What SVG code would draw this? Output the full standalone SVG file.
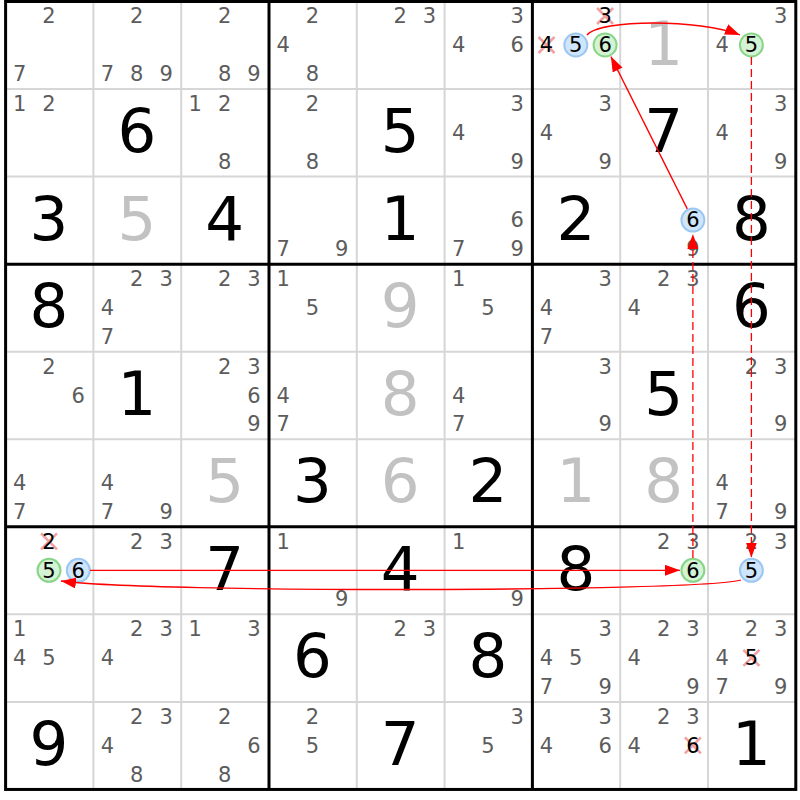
<svg xmlns="http://www.w3.org/2000/svg" xmlns:xlink="http://www.w3.org/1999/xlink" width="800" height="800" viewBox="0 0 800 800">
<defs>
<style>
text{font-family:"DejaVu Sans","Liberation Sans",sans-serif;text-anchor:middle}
.c{font-size:21px;fill:#5c5c5c}
.k{font-size:21px;fill:#000}
.b{font-size:61px;fill:#000}
.g{font-size:61px;fill:#c2c2c2}
.thin{stroke:#d6d6d6;stroke-width:2;fill:none}
.thick{stroke:#000;stroke-width:3;fill:none}
.cb{fill:#cfe5fb;stroke:#9cc7f0;stroke-width:2}
.cg{fill:#d4f2d4;stroke:#88d488;stroke-width:2}
.xm{stroke:#f2a0a0;stroke-width:2.5;fill:none}
.ln{stroke:#f00;stroke-width:1.3;fill:none}
.ds{stroke-dasharray:8 4}
</style>
<path id="x" class="xm" d="M-8-8L8 8M8-8L-8 8"/>
<marker id="ah" markerUnits="userSpaceOnUse" viewBox="0 0 15 11" refX="15" refY="5.5" markerWidth="15" markerHeight="11" orient="auto">
<path d="M0 0L15 5.5L0 11z" fill="#f00"/>
</marker>
</defs>
<rect width="800" height="800" fill="#fff"/>
<g id="grid">
<path class="thin" d="M93.4 1.5V789.45M181.2 1.5V789.45M356.8 1.5V789.45M444.6 1.5V789.45M620.2 1.5V789.45M708 1.5V789.45M5.6 89.05H795.8M5.6 176.6H795.8M5.6 351.7H795.8M5.6 439.25H795.8M5.6 614.35H795.8M5.6 701.9H795.8"/>
<path class="thick" d="M269 1.5V789.45M532.4 1.5V789.45M5.6 264.15H795.8M5.6 526.8H795.8"/>
<rect class="thick" x="5.6" y="1.5" width="790.2" height="787.95"/>
</g>
<g id="r1c1"><text class="c" x="49" y="23.3">2</text><text class="c" x="19.7" y="81.1">7</text></g>
<g id="r1c2"><text class="c" x="136.8" y="23.3">2</text><text class="c" x="107.5" y="81.1">7</text><text class="c" x="136.8" y="81.1">8</text><text class="c" x="166.1" y="81.1">9</text></g>
<g id="r1c3"><text class="c" x="224.6" y="23.3">2</text><text class="c" x="224.6" y="81.1">8</text><text class="c" x="253.9" y="81.1">9</text></g>
<g id="r1c4"><text class="c" x="312.4" y="23.3">2</text><text class="c" x="283.1" y="52.3">4</text><text class="c" x="312.4" y="81.1">8</text></g>
<g id="r1c5"><text class="c" x="400.2" y="23.3">2</text><text class="c" x="429.5" y="23.3">3</text></g>
<g id="r1c6"><text class="c" x="517.3" y="23.3">3</text><text class="c" x="458.7" y="52.3">4</text><text class="c" x="517.3" y="52.3">6</text></g>
<g id="r1c7"><use href="#x" x="605.1" y="16"/><text class="k" x="605.1" y="23.3">3</text><use href="#x" x="546.5" y="45"/><text class="k" x="546.5" y="52.3">4</text><circle class="cb" cx="575.8" cy="45" r="11.5"/><text class="k" x="575.8" y="52.3">5</text><circle class="cg" cx="605.1" cy="45" r="11.5"/><text class="k" x="605.1" y="52.3">6</text></g>
<g id="r1c8"><text class="g" x="663.6" y="64.5">1</text></g>
<g id="r1c9"><text class="c" x="780.7" y="23.3">3</text><text class="c" x="722.1" y="52.3">4</text><circle class="cg" cx="751.4" cy="45" r="11.5"/><text class="k" x="751.4" y="52.3">5</text></g>
<g id="r2c1"><text class="c" x="19.7" y="110.9">1</text><text class="c" x="49" y="110.9">2</text></g>
<g id="r2c2"><text class="b" x="136.8" y="152">6</text></g>
<g id="r2c3"><text class="c" x="195.3" y="110.9">1</text><text class="c" x="224.6" y="110.9">2</text><text class="c" x="224.6" y="168.7">8</text></g>
<g id="r2c4"><text class="c" x="312.4" y="110.9">2</text><text class="c" x="312.4" y="168.7">8</text></g>
<g id="r2c5"><text class="b" x="400.2" y="152">5</text></g>
<g id="r2c6"><text class="c" x="517.3" y="110.9">3</text><text class="c" x="458.7" y="139.9">4</text><text class="c" x="517.3" y="168.7">9</text></g>
<g id="r2c7"><text class="c" x="605.1" y="110.9">3</text><text class="c" x="546.5" y="139.9">4</text><text class="c" x="605.1" y="168.7">9</text></g>
<g id="r2c8"><text class="b" x="663.6" y="152">7</text></g>
<g id="r2c9"><text class="c" x="780.7" y="110.9">3</text><text class="c" x="722.1" y="139.9">4</text><text class="c" x="780.7" y="168.7">9</text></g>
<g id="r3c1"><text class="b" x="49" y="239.6">3</text></g>
<g id="r3c2"><text class="g" x="136.8" y="239.6">5</text></g>
<g id="r3c3"><text class="b" x="224.6" y="239.6">4</text></g>
<g id="r3c4"><text class="c" x="283.1" y="256.2">7</text><text class="c" x="341.7" y="256.2">9</text></g>
<g id="r3c5"><text class="b" x="400.2" y="239.6">1</text></g>
<g id="r3c6"><text class="c" x="517.3" y="227.4">6</text><text class="c" x="458.7" y="256.2">7</text><text class="c" x="517.3" y="256.2">9</text></g>
<g id="r3c7"><text class="b" x="575.8" y="239.6">2</text></g>
<g id="r3c8"><circle class="cb" cx="692.9" cy="220.1" r="11.5"/><text class="k" x="692.9" y="227.4">6</text><text class="c" x="692.9" y="256.2">9</text></g>
<g id="r3c9"><text class="b" x="751.4" y="239.6">8</text></g>
<g id="r4c1"><text class="b" x="49" y="327.2">8</text></g>
<g id="r4c2"><text class="c" x="136.8" y="286">2</text><text class="c" x="166.1" y="286">3</text><text class="c" x="107.5" y="315">4</text><text class="c" x="107.5" y="343.8">7</text></g>
<g id="r4c3"><text class="c" x="224.6" y="286">2</text><text class="c" x="253.9" y="286">3</text></g>
<g id="r4c4"><text class="c" x="283.1" y="286">1</text><text class="c" x="312.4" y="315">5</text></g>
<g id="r4c5"><text class="g" x="400.2" y="327.2">9</text></g>
<g id="r4c6"><text class="c" x="458.7" y="286">1</text><text class="c" x="488" y="315">5</text></g>
<g id="r4c7"><text class="c" x="605.1" y="286">3</text><text class="c" x="546.5" y="315">4</text><text class="c" x="546.5" y="343.8">7</text></g>
<g id="r4c8"><text class="c" x="663.6" y="286">2</text><text class="c" x="692.9" y="286">3</text><text class="c" x="634.3" y="315">4</text></g>
<g id="r4c9"><text class="b" x="751.4" y="327.2">6</text></g>
<g id="r5c1"><text class="c" x="49" y="373.5">2</text><text class="c" x="78.3" y="402.5">6</text></g>
<g id="r5c2"><text class="b" x="136.8" y="414.7">1</text></g>
<g id="r5c3"><text class="c" x="224.6" y="373.5">2</text><text class="c" x="253.9" y="373.5">3</text><text class="c" x="253.9" y="402.5">6</text><text class="c" x="253.9" y="431.3">9</text></g>
<g id="r5c4"><text class="c" x="283.1" y="402.5">4</text><text class="c" x="283.1" y="431.3">7</text></g>
<g id="r5c5"><text class="g" x="400.2" y="414.7">8</text></g>
<g id="r5c6"><text class="c" x="458.7" y="402.5">4</text><text class="c" x="458.7" y="431.3">7</text></g>
<g id="r5c7"><text class="c" x="605.1" y="373.5">3</text><text class="c" x="605.1" y="431.3">9</text></g>
<g id="r5c8"><text class="b" x="663.6" y="414.7">5</text></g>
<g id="r5c9"><text class="c" x="751.4" y="373.5">2</text><text class="c" x="780.7" y="373.5">3</text><text class="c" x="780.7" y="431.3">9</text></g>
<g id="r6c1"><text class="c" x="19.7" y="490.1">4</text><text class="c" x="19.7" y="518.9">7</text></g>
<g id="r6c2"><text class="c" x="107.5" y="490.1">4</text><text class="c" x="107.5" y="518.9">7</text><text class="c" x="166.1" y="518.9">9</text></g>
<g id="r6c3"><text class="g" x="224.6" y="502.3">5</text></g>
<g id="r6c4"><text class="b" x="312.4" y="502.3">3</text></g>
<g id="r6c5"><text class="g" x="400.2" y="502.3">6</text></g>
<g id="r6c6"><text class="b" x="488" y="502.3">2</text></g>
<g id="r6c7"><text class="g" x="575.8" y="502.3">1</text></g>
<g id="r6c8"><text class="g" x="663.6" y="502.3">8</text></g>
<g id="r6c9"><text class="c" x="722.1" y="490.1">4</text><text class="c" x="722.1" y="518.9">7</text><text class="c" x="780.7" y="518.9">9</text></g>
<g id="r7c1"><use href="#x" x="49" y="541.3"/><text class="k" x="49" y="548.6">2</text><circle class="cg" cx="49" cy="570.3" r="11.5"/><text class="k" x="49" y="577.6">5</text><circle class="cb" cx="78.3" cy="570.3" r="11.5"/><text class="k" x="78.3" y="577.6">6</text></g>
<g id="r7c2"><text class="c" x="136.8" y="548.6">2</text><text class="c" x="166.1" y="548.6">3</text></g>
<g id="r7c3"><text class="b" x="224.6" y="589.8">7</text></g>
<g id="r7c4"><text class="c" x="283.1" y="548.6">1</text><text class="c" x="341.7" y="606.4">9</text></g>
<g id="r7c5"><text class="b" x="400.2" y="589.8">4</text></g>
<g id="r7c6"><text class="c" x="458.7" y="548.6">1</text><text class="c" x="517.3" y="606.4">9</text></g>
<g id="r7c7"><text class="b" x="575.8" y="589.8">8</text></g>
<g id="r7c8"><text class="c" x="663.6" y="548.6">2</text><text class="c" x="692.9" y="548.6">3</text><circle class="cg" cx="692.9" cy="570.3" r="11.5"/><text class="k" x="692.9" y="577.6">6</text></g>
<g id="r7c9"><text class="c" x="751.4" y="548.6">2</text><text class="c" x="780.7" y="548.6">3</text><circle class="cb" cx="751.4" cy="570.3" r="11.5"/><text class="k" x="751.4" y="577.6">5</text></g>
<g id="r8c1"><text class="c" x="19.7" y="636.2">1</text><text class="c" x="19.7" y="665.2">4</text><text class="c" x="49" y="665.2">5</text></g>
<g id="r8c2"><text class="c" x="136.8" y="636.2">2</text><text class="c" x="166.1" y="636.2">3</text><text class="c" x="107.5" y="665.2">4</text></g>
<g id="r8c3"><text class="c" x="195.3" y="636.2">1</text><text class="c" x="253.9" y="636.2">3</text></g>
<g id="r8c4"><text class="b" x="312.4" y="677.4">6</text></g>
<g id="r8c5"><text class="c" x="400.2" y="636.2">2</text><text class="c" x="429.5" y="636.2">3</text></g>
<g id="r8c6"><text class="b" x="488" y="677.4">8</text></g>
<g id="r8c7"><text class="c" x="605.1" y="636.2">3</text><text class="c" x="546.5" y="665.2">4</text><text class="c" x="575.8" y="665.2">5</text><text class="c" x="546.5" y="694">7</text><text class="c" x="605.1" y="694">9</text></g>
<g id="r8c8"><text class="c" x="663.6" y="636.2">2</text><text class="c" x="692.9" y="636.2">3</text><text class="c" x="634.3" y="665.2">4</text><text class="c" x="692.9" y="694">9</text></g>
<g id="r8c9"><text class="c" x="751.4" y="636.2">2</text><text class="c" x="780.7" y="636.2">3</text><text class="c" x="722.1" y="665.2">4</text><use href="#x" x="751.4" y="657.9"/><text class="k" x="751.4" y="665.2">5</text><text class="c" x="722.1" y="694">7</text><text class="c" x="780.7" y="694">9</text></g>
<g id="r9c1"><text class="b" x="49" y="764.9">9</text></g>
<g id="r9c2"><text class="c" x="136.8" y="723.7">2</text><text class="c" x="166.1" y="723.7">3</text><text class="c" x="107.5" y="752.7">4</text><text class="c" x="136.8" y="781.5">8</text></g>
<g id="r9c3"><text class="c" x="224.6" y="723.7">2</text><text class="c" x="253.9" y="752.7">6</text><text class="c" x="224.6" y="781.5">8</text></g>
<g id="r9c4"><text class="c" x="312.4" y="723.7">2</text><text class="c" x="312.4" y="752.7">5</text></g>
<g id="r9c5"><text class="b" x="400.2" y="764.9">7</text></g>
<g id="r9c6"><text class="c" x="517.3" y="723.7">3</text><text class="c" x="488" y="752.7">5</text></g>
<g id="r9c7"><text class="c" x="605.1" y="723.7">3</text><text class="c" x="546.5" y="752.7">4</text><text class="c" x="605.1" y="752.7">6</text></g>
<g id="r9c8"><text class="c" x="663.6" y="723.7">2</text><text class="c" x="692.9" y="723.7">3</text><text class="c" x="634.3" y="752.7">4</text><use href="#x" x="692.9" y="745.4"/><text class="k" x="692.9" y="752.7">6</text></g>
<g id="r9c9"><text class="b" x="751.4" y="764.9">1</text></g>
<g id="connectors">
<path class="ln" marker-end="url(#ah)" d="M587 35C600 19 700 19 740 35"/>
<path class="ln" marker-end="url(#ah)" d="M687.3 208.9L610.9 56.6"/>
<path class="ln ds" marker-end="url(#ah)" d="M751.4 57V557.5"/>
<path class="ln ds" marker-end="url(#ah)" d="M692.9 558V234"/>
<path class="ln" marker-end="url(#ah)" d="M90 570.3H680"/>
<path class="ln" marker-end="url(#ah)" d="M741 580C700 592 150 593 61 581"/>
</g>
</svg>
